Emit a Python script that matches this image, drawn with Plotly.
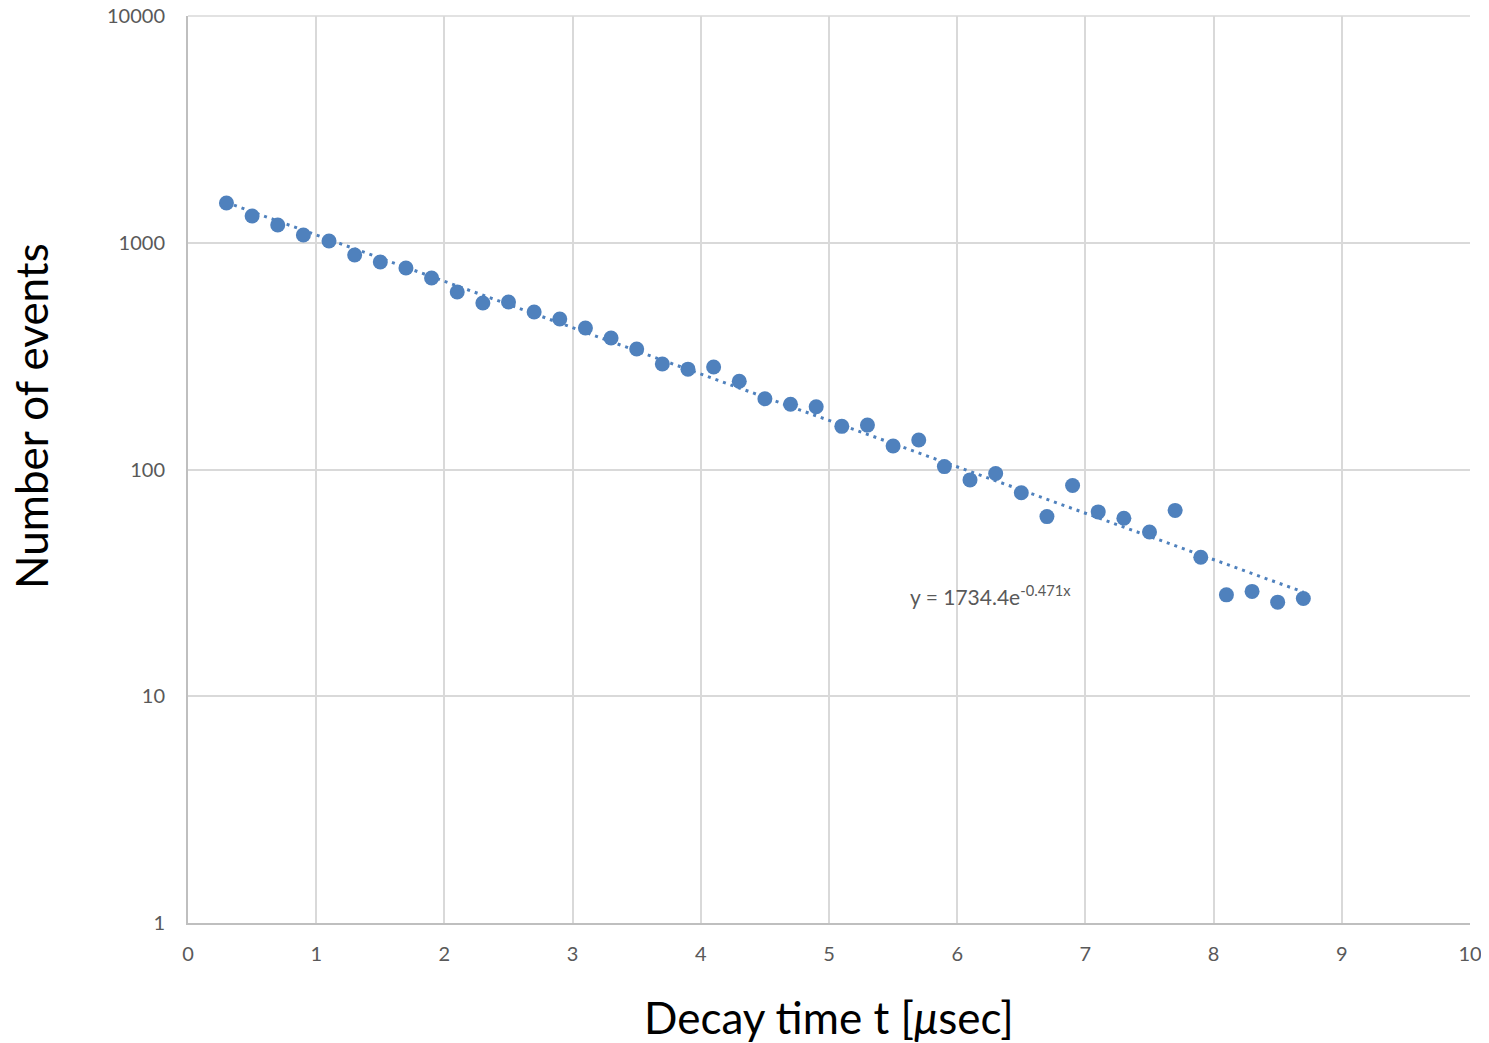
import numpy as np
import plotly.graph_objects as go

# Data
decay_time = [0.3, 0.5, 0.7, 0.9, 1.1, 1.3, 1.5, 1.7, 1.9, 2.1, 2.3, 2.5, 2.7, 2.9,
              3.1, 3.3, 3.5, 3.7, 3.9, 4.1, 4.3, 4.5, 4.7, 4.9, 5.1, 5.3, 5.5, 5.7,
              5.9, 6.1, 6.3, 6.5, 6.7, 6.9, 7.1, 7.3, 7.5, 7.7, 7.9, 8.1, 8.3, 8.5, 8.7]
events = [1497, 1312, 1197, 1082, 1018, 883, 823, 774, 699, 606, 542, 548, 495, 461,
          421, 380, 340, 292, 277, 283, 245, 205, 194, 189, 155, 157, 127, 135,
          103, 90, 96, 79, 62, 85, 65, 61, 53, 66, 41, 28, 29, 26, 27]

# Exponential trendline parameters (as printed on the chart)
fit_A = 1734.4
fit_k = -0.471
trend_x = np.array([decay_time[0], decay_time[-1]])
trend_y = fit_A * np.exp(fit_k * trend_x)

x_ticks = list(range(0, 11))
y_ticks = [1, 10, 100, 1000, 10000]

blue = "#4f81bd"
grid = "#d9d9d9"
font = "Lato, 'Open Sans', sans-serif"

fig = go.Figure()
fig.add_trace(go.Scatter(
    x=trend_x, y=trend_y, mode="lines",
    line=dict(color=blue, width=3, dash="3px,5px"),
    showlegend=False, hoverinfo="skip"))
fig.add_trace(go.Scatter(
    x=decay_time, y=events, mode="markers",
    marker=dict(color=blue, size=15, line=dict(width=0)),
    showlegend=False))

fig.add_annotation(
    x=5.62, y=np.log10(28), xref="x", yref="y",
    text="y = 1734.4e<sup>-0.471x</sup>", showarrow=False,
    xanchor="left", yanchor="middle",
    font=dict(family=font, size=21, color="#595959"))

# Axis titles
fig.add_annotation(
    x=0.5, y=-0.104, xref="paper", yref="paper",
    text="Decay time t [<i>μ</i>sec]", showarrow=False,
    xanchor="center", yanchor="middle",
    font=dict(family=font, size=44, color="black"))
fig.add_annotation(
    x=-0.1225, y=0.559, xref="paper", yref="paper",
    text="Number of events", showarrow=False, textangle=-90,
    xanchor="center", yanchor="middle",
    font=dict(family=font, size=44, color="black"))

# top border of plot area (gridline at 10000)
fig.add_shape(type="line", xref="paper", yref="paper", x0=0, x1=1, y0=1, y1=1,
              line=dict(color=grid, width=1.5), layer="below")

fig.update_layout(
    width=1481, height=1035,
    margin=dict(l=180, r=19, t=8, b=120, autoexpand=False),
    plot_bgcolor="white", paper_bgcolor="white",
    font=dict(family=font, color="#595959", size=20),
    xaxis=dict(
        range=[0, 10], tickvals=x_ticks, ticktext=[str(v) for v in x_ticks],
        showgrid=True, gridcolor=grid, gridwidth=1.5,
        showline=True, linecolor="#bfbfbf", linewidth=2,
        zeroline=False, ticks="", ticklen=0, automargin=False,
        ticklabelstandoff=12, ticklabeloverflow="allow",
        tickfont=dict(size=20, color="#595959", family=font),
    ),
    yaxis=dict(
        type="log", range=[0, 4], tickvals=y_ticks, ticktext=[str(v) for v in y_ticks],
        showgrid=True, gridcolor=grid, gridwidth=1.5,
        showline=True, linecolor="#bfbfbf", linewidth=2,
        zeroline=False, ticks="", ticklen=0, automargin=False,
        ticklabelstandoff=17, ticklabeloverflow="allow",
        tickfont=dict(size=20, color="#595959", family=font),
    ),
)

fig.write_html("out.html")
